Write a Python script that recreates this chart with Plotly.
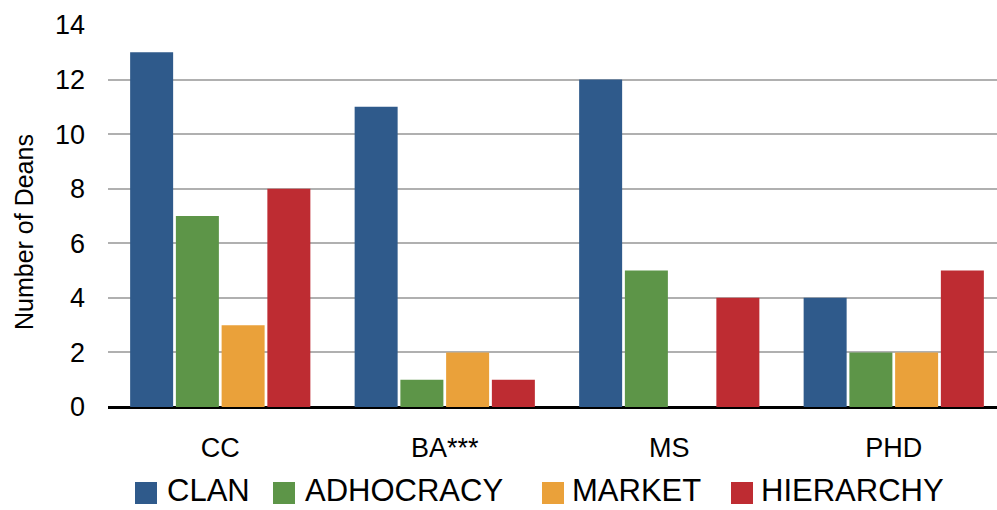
import plotly.graph_objects as go

# Degree levels and counts of deans by dominant culture type
categories = ["CC", "BA***", "MS", "PHD"]
series_names = ["CLAN", "ADHOCRACY", "MARKET", "HIERARCHY"]
clan = [13, 11, 12, 4]
adhocracy = [7, 1, 5, 2]
market = [3, 2, 0, 2]
hierarchy = [8, 1, 4, 5]
y_ticks = [0, 2, 4, 6, 8, 10, 12, 14]

series_values = [clan, adhocracy, market, hierarchy]
colors = ["#2F5A8B", "#5D9548", "#EAA13A", "#BE2C32"]

W, H = 997, 510
L, R, T, B = 108, 0, 25, 103
plot_w = W - L - R
plot_h = H - T - B

fig = go.Figure()
for name, vals, col in zip(series_names, series_values, colors):
    fig.add_trace(go.Bar(
        x=categories, y=vals, name=name,
        marker=dict(color=col, line=dict(width=0)),
        showlegend=False,
    ))

FONT = "Liberation Sans, Arial, sans-serif"

def px_x(px):
    return (px - L) / plot_w

def px_y(py):
    return (H - B - py) / plot_h

# Hand-built legend below the plot with large square swatches
legend_square_x = [135, 273, 542, 731]
legend_text_x = [166, 304, 571, 760]
sq = 22
cy = 490
shapes = []
annotations = []
for name, col, sx, tx in zip(series_names, colors, legend_square_x, legend_text_x):
    shapes.append(dict(
        type="rect", xref="paper", yref="paper",
        x0=px_x(sx), x1=px_x(sx + sq),
        y0=px_y(cy - sq / 2 + 3), y1=px_y(cy + sq / 2 + 3),
        fillcolor=col, line=dict(width=0), layer="above",
    ))
    annotations.append(dict(
        text=name, xref="paper", yref="paper",
        x=px_x(tx), y=px_y(cy), xanchor="left", yanchor="middle",
        showarrow=False, borderpad=0,
        font=dict(family=FONT, size=31, color="#000000"),
    ))

annotations.append(dict(
    text="Number of Deans", xref="paper", yref="paper",
    x=px_x(24), y=px_y(232), xanchor="center", yanchor="middle",
    textangle=-90, showarrow=False,
    font=dict(family=FONT, size=25, color="#000000"),
))

fig.update_layout(
    width=W, height=H,
    margin=dict(l=L, r=R, t=T, b=B, pad=0),
    paper_bgcolor="white", plot_bgcolor="white",
    barmode="group", bargap=0.185, bargroupgap=0.06,
    font=dict(family=FONT, color="#000000"),
    shapes=shapes, annotations=annotations,
    showlegend=False,
)
fig.update_xaxes(
    type="category", range=[-0.5, -0.5 + plot_w / 224.5],
    showgrid=False, showline=False, ticks="",
    tickfont=dict(family=FONT, size=27, color="#000000"),
    ticklabelstandoff=22,
)
fig.update_yaxes(
    range=[0, 14], tickvals=y_ticks,
    showgrid=True, gridcolor="#B0B0B0", gridwidth=2,
    zeroline=True, zerolinecolor="#000000", zerolinewidth=2.5,
    showline=False, ticks="",
    tickfont=dict(family=FONT, size=27, color="#000000"),
    ticklabelstandoff=22,
)

fig.write_html("out.html")
